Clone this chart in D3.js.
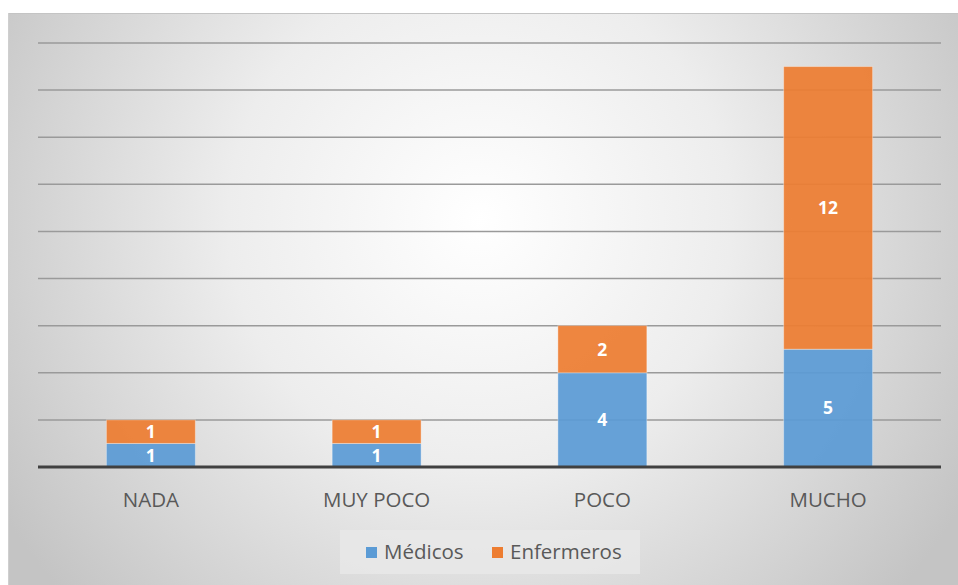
<!DOCTYPE html>
<html>
<head>
<meta charset="utf-8">
<script src="https://cdn.jsdelivr.net/npm/d3@7"></script>
<style>
  body { margin: 0; background: #fff; }
  svg { display: block; font-family: "Open Sans", "Noto Sans", sans-serif; }
</style>
</head>
<body>
<div id="chart"></div>
<script>
var categories = ["NADA", "MUY POCO", "POCO", "MUCHO"];
var medicos = [1, 1, 4, 5];
var enfermeros = [1, 1, 2, 12];
var seriesNames = ["Médicos", "Enfermeros"];
var colors = ["#5B9BD5", "#ED7D31"];
var yMax = 18;
var yTicks = [0, 2, 4, 6, 8, 10, 12, 14, 16, 18];

var w = 958, h = 585;
var plotLeft = 38, plotRight = 941, plotTop = 43, plotBottom = 467;

var svg = d3.select("#chart").append("svg").attr("width", w).attr("height", h);

// background with radial gradient
var defs = svg.append("defs");
var grad = defs.append("radialGradient")
  .attr("id", "bg")
  .attr("gradientUnits", "userSpaceOnUse")
  .attr("cx", 480).attr("cy", 220).attr("r", 560);
grad.append("stop").attr("offset", "0%").attr("stop-color", "#ffffff");
grad.append("stop").attr("offset", "45%").attr("stop-color", "#ededed");
grad.append("stop").attr("offset", "100%").attr("stop-color", "#c4c4c4");

svg.append("rect")
  .attr("x", 8).attr("y", 13)
  .attr("width", w - 8).attr("height", h - 13)
  .style("fill", "url(#bg)");
svg.append("line")
  .attr("x1", 8).attr("x2", w).attr("y1", 13.5).attr("y2", 13.5)
  .style("stroke", "#c4c4c4").style("stroke-width", 1);
svg.append("line")
  .attr("x1", 8.5).attr("x2", 8.5).attr("y1", 13).attr("y2", h)
  .style("stroke", "#cfcfcf").style("stroke-width", 1);

var x = d3.scaleBand().domain(categories).range([plotLeft, plotRight]).paddingInner(0.606).paddingOuter(0.303);
var y = d3.scaleLinear().domain([0, yMax]).range([plotBottom, plotTop]);

// gridlines
svg.append("g")
  .selectAll("line")
  .data(yTicks.slice(1))
  .enter()
  .append("line")
  .attr("x1", plotLeft).attr("x2", plotRight)
  .attr("y1", function (d) { return y(d); })
  .attr("y2", function (d) { return y(d); })
  .style("stroke", "#9a9a9a")
  .style("stroke-width", 1.5);

// stacked data
var rows = categories.map(function (c, i) {
  return { cat: c, "Médicos": medicos[i], "Enfermeros": enfermeros[i] };
});
var stacked = d3.stack().keys(seriesNames)(rows);

var layers = svg.append("g")
  .selectAll("g")
  .data(stacked)
  .enter()
  .append("g")
  .style("fill", function (d, i) { return colors[i]; });

layers.selectAll("rect")
  .data(function (d) { return d; })
  .enter()
  .append("rect")
  .attr("x", function (d) { return x(d.data.cat); })
  .attr("y", function (d) { return y(d[1]); })
  .attr("width", x.bandwidth())
  .attr("height", function (d) { return y(d[0]) - y(d[1]); })
  .style("fill-opacity", 0.93)
  .style("stroke", "rgba(255,255,255,0.35)")
  .style("stroke-width", 1);

layers.selectAll("text")
  .data(function (d) { return d; })
  .enter()
  .append("text")
  .attr("x", function (d) { return x(d.data.cat) + x.bandwidth() / 2; })
  .attr("y", function (d) { return (y(d[0]) + y(d[1])) / 2; })
  .attr("dy", "0.36em")
  .attr("text-anchor", "middle")
  .text(function (d) { return d[1] - d[0]; })
  .style("fill", "#ffffff")
  .style("font-weight", "bold")
  .style("font-size", "17.5px");

// baseline
svg.append("line")
  .attr("x1", plotLeft).attr("x2", plotRight)
  .attr("y1", y(0)).attr("y2", y(0))
  .style("stroke", "#404040")
  .style("stroke-width", 3);

// category labels
svg.append("g")
  .selectAll("text")
  .data(categories)
  .enter()
  .append("text")
  .attr("x", function (d) { return x(d) + x.bandwidth() / 2; })
  .attr("y", 507)
  .attr("text-anchor", "middle")
  .text(function (d) { return d; })
  .style("fill", "#595959")
  .style("font-size", "20.5px");

// legend
var legend = svg.append("g");
legend.append("rect")
  .attr("x", 340).attr("y", 530)
  .attr("width", 300).attr("height", 44)
  .style("fill", "#e8e8e8")
  .style("fill-opacity", 0.8);
var legX = [366, 492];
seriesNames.forEach(function (s, i) {
  legend.append("rect")
    .attr("x", legX[i]).attr("y", 547)
    .attr("width", 11).attr("height", 11)
    .style("fill", colors[i]);
  legend.append("text")
    .attr("x", legX[i] + 18).attr("y", 559)
    .text(s)
    .style("fill", "#595959")
    .style("font-size", "20.5px");
});
</script>
</body>
</html>
